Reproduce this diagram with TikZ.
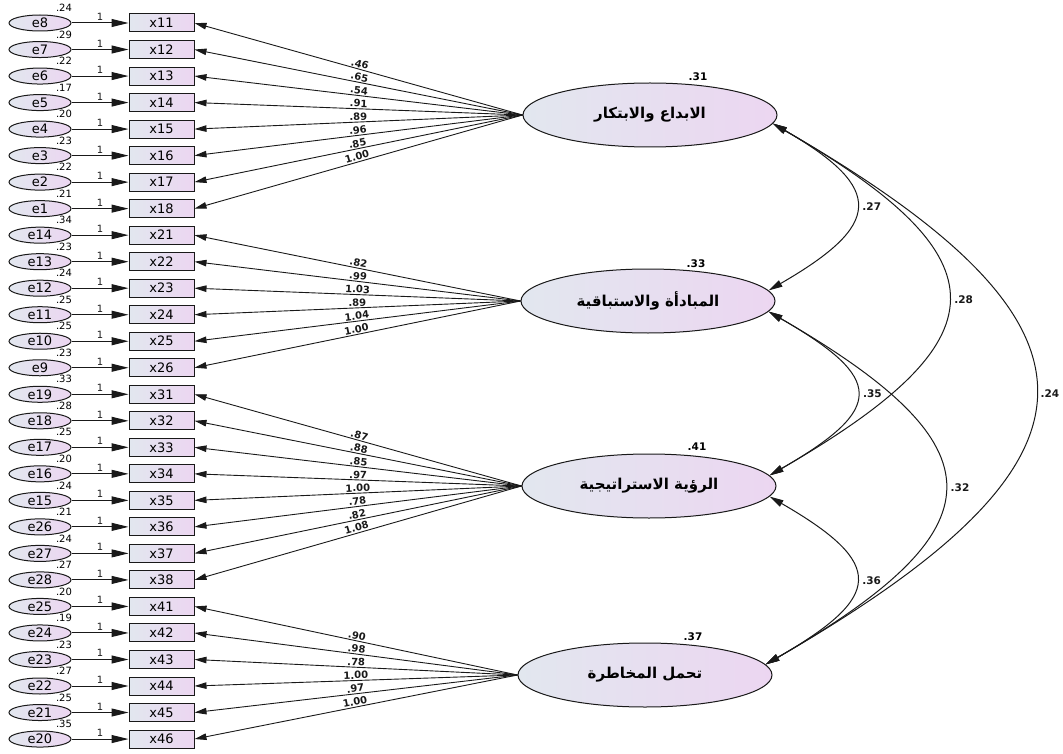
\documentclass[tikz,border=0pt]{standalone}
\usepackage{fontspec}
\setmainfont{DejaVu Sans}
\newfontfamily\arabicfont[Script=Arabic]{DejaVu Sans}
\TeXXeTstate=1
\usetikzlibrary{positioning, shapes.geometric, arrows.meta}
\definecolor{lblue}{RGB}{226,231,239}
\definecolor{lpink}{RGB}{236,214,241}
\definecolor{ldark}{RGB}{25,25,25}

\begin{document}
\begin{tikzpicture}[x=1pt, y=1pt,
  errnode/.style={ellipse, draw=ldark, line width=1pt, left color=lblue, right color=lpink,
    minimum width=62pt, minimum height=16pt, inner sep=0pt, font=\fontsize{13}{13}\selectfont},
  obsbox/.style={rectangle, draw=ldark, line width=1pt, left color=lblue, right color=lpink,
    minimum width=65pt, minimum height=18pt, inner sep=0pt, font=\fontsize{13}{13}\selectfont},
  latent/.style={ellipse, draw=ldark, line width=1pt, left color=lblue, right color=lpink,
    minimum width=254pt, minimum height=64pt, inner sep=0pt,
    font=\arabicfont\bfseries\fontsize{15}{17}\selectfont},
  errarrow/.style={-{Triangle[length=17pt,width=8pt]}, line width=1pt, ldark},
  loadarrow/.style={-{Triangle[length=12pt,width=6.5pt]}, line width=0.9pt, ldark},
  covarrow/.style={{Triangle[length=14pt,width=7pt]}-{Triangle[length=14pt,width=7pt]}, line width=1pt, ldark},
  onelabel/.style={font=\fontsize{10}{10}\selectfont, inner sep=2pt},
  evar/.style={font=\fontsize{10}{10}\selectfont, inner sep=0pt},
  loadlabel/.style={font=\bfseries\fontsize{10}{10}\selectfont, sloped, above, pos=0.5, inner sep=1pt},
  lvar/.style={font=\bfseries\fontsize{10.5}{11}\selectfont, inner sep=0pt},
  covlabel/.style={font=\bfseries\fontsize{10.5}{11}\selectfont, right, pos=0.5, xshift=3pt}]
  \useasboundingbox (0,0) rectangle (1063,-754);

  % the four factors
  \node[latent] (f1) at (650,-115) {\beginR الابداع والابتكار\endR};
  \node[latent] (f2) at (648,-301) {\beginR المبادأة والاستباقية\endR};
  \node[latent] (f3) at (649,-486) {\beginR الرؤية الاستراتيجية\endR};
  \node[latent] (f4) at (645,-675) {\beginR تحمل المخاطرة\endR};
  \node[lvar] at ([xshift=48pt,yshift=38pt]f1.center) {.31};
  \node[lvar] at ([xshift=48pt,yshift=37pt]f2.center) {.33};
  \node[lvar] at ([xshift=48pt,yshift=39pt]f3.center) {.41};
  \node[lvar] at ([xshift=48pt,yshift=38pt]f4.center) {.37};

  % error -> item -> factor, one row each
  \foreach \e/\x/\v/\l/\f [count=\i from 0] in {
      8/11/.24/.46/f1, 7/12/.29/.65/f1, 6/13/.22/.54/f1, 5/14/.17/.91/f1,
      4/15/.20/.89/f1, 3/16/.23/.96/f1, 2/17/.22/.85/f1, 1/18/.21/1.00/f1,
      14/21/.34/.82/f2, 13/22/.23/.99/f2, 12/23/.24/1.03/f2, 11/24/.25/.89/f2,
      10/25/.25/1.04/f2, 9/26/.23/1.00/f2,
      19/31/.33/.87/f3, 18/32/.28/.88/f3, 17/33/.25/.85/f3, 16/34/.20/.97/f3,
      15/35/.24/1.00/f3, 26/36/.21/.78/f3, 27/37/.24/.82/f3, 28/38/.27/1.08/f3,
      25/41/.20/.90/f4, 24/42/.19/.98/f4, 23/43/.23/.78/f4, 22/44/.27/1.00/f4,
      21/45/.25/.97/f4, 20/46/.35/1.00/f4} {
    \pgfmathsetmacro\yy{-23-26.52*\i}
    \node[errnode] (e\e) at (40,\yy) {e\e};
    \node[obsbox] (x\x) at (161.5,\yy) {x\x};
    \node[evar] at ([xshift=24pt,yshift=15pt]e\e.center) {\v};
    \draw[errarrow] (e\e) -- node[above, onelabel] {1} (x\x);
    \draw[loadarrow] (\f.west) -- node[loadlabel] {\l} (x\x.east);
  }

  % covariances
  \draw[covarrow] (f1.-4) to[out=-30, in=30, looseness=2.0] node[covlabel] {.27} (f2.5);
  \draw[covarrow] (f1.-4) to[out=-30, in=30, looseness=1.97] node[covlabel] {.28} (f3.5);
  \draw[covarrow] (f1.-4) to[out=-30, in=30, looseness=1.93] node[covlabel, xshift=-1pt] {.24} (f4.5);
  \draw[covarrow] (f2.-5) to[out=-30, in=30, looseness=2.09] node[covlabel] {.35} (f3.5);
  \draw[covarrow] (f2.-5) to[out=-30, in=30, looseness=1.97] node[covlabel] {.32} (f4.5);
  \draw[covarrow] (f3.-5) to[out=-30, in=30, looseness=2.06] node[covlabel] {.36} (f4.5);
\end{tikzpicture}
\end{document}
